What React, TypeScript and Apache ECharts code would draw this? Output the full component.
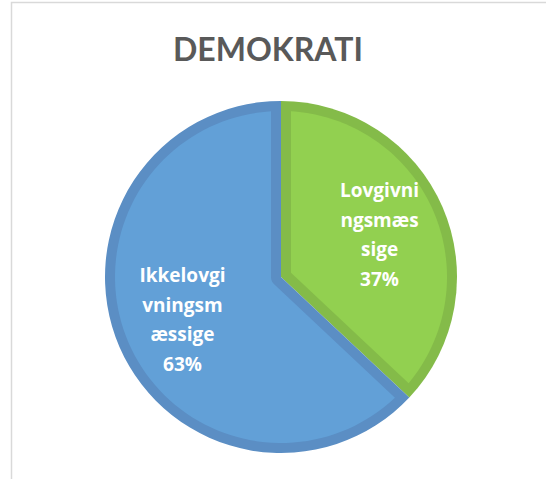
import React, { useEffect, useRef } from "react";
import * as echarts from "echarts";

const chartTitle = "DEMOKRATI";
const categories = ["Lovgivningsmæssige", "Ikkelovgivningsmæssige"];
const values = [37, 63];
const wrappedLabels = ["Lovgivni\nngsmæs\nsige", "Ikkelovgi\nvningsm\næssige"];
const fillColors = ["#92d050", "#62a0d7"];
const edgeColors = ["#84bb49", "#5b8ec4"];

const CX = 281;
const CY = 277;
const R = 176;
const INSET = 10;
const LABEL_R = 0.61;

export default function App() {
  const ref = useRef<HTMLDivElement>(null);
  useEffect(() => {
    const chart = echarts.init(ref.current!, null, { renderer: "svg" });
    const total = values.reduce((a, b) => a + b, 0);
    const starts: number[] = [];
    let acc = 0;
    values.forEach((v) => {
      starts.push(acc);
      acc += v;
    });

    const renderItem = (params: any, api: any) => {
      const i = params.dataIndex;
      const v = api.value(0);
      const a0 = -Math.PI / 2 + (starts[i] / total) * Math.PI * 2;
      const a1 = a0 + (v / total) * Math.PI * 2;
      const alpha = a1 - a0;
      const rho = R - INSET;
      const delta = Math.asin(INSET / rho);
      const pts: number[][] = [];
      const n = 90;
      for (let k = 0; k <= n; k++) {
        const t = a0 + delta + ((a1 - delta - (a0 + delta)) * k) / n;
        pts.push([CX + rho * Math.cos(t), CY + rho * Math.sin(t)]);
      }
      if (alpha < Math.PI) {
        const m = (a0 + a1) / 2;
        const dc = INSET / Math.sin(alpha / 2);
        pts.push([CX + dc * Math.cos(m), CY + dc * Math.sin(m)]);
      } else {
        const e1 = a1 - Math.PI / 2;
        const e0 = a0 + Math.PI / 2;
        const m = 8;
        for (let k = 0; k <= m; k++) {
          const t = e1 + ((e0 - e1) * k) / m;
          pts.push([CX + INSET * Math.cos(t), CY + INSET * Math.sin(t)]);
        }
      }
      const mid = (a0 + a1) / 2;
      const lx = CX + LABEL_R * R * Math.cos(mid);
      const ly = CY + LABEL_R * R * Math.sin(mid);
      const pct = Math.round((v / total) * 100);
      return {
        type: "group",
        children: [
          {
            type: "polygon",
            shape: { points: pts },
            style: { fill: fillColors[i] },
          },
          {
            type: "text",
            x: lx,
            y: ly,
            style: {
              text: wrappedLabels[i] + "\n" + pct + "%",
              fill: "#ffffff",
              fontSize: 19,
              fontWeight: "bold",
              fontFamily: "'Open Sans', Lato, sans-serif",
              align: "center",
              verticalAlign: "middle",
              lineHeight: 29.5,
            },
          },
        ],
      };
    };

    chart.setOption({
      animation: false,
      backgroundColor: "#ffffff",
      graphic: [
        {
          type: "rect",
          z: -10,
          shape: { x: 11.5, y: 2.5, width: 700, height: 700 },
          style: { fill: "none", stroke: "#d9d9d9", lineWidth: 1.5 },
          silent: true,
        },
        {
          type: "text",
          x: 268,
          y: 48,
          style: {
            text: chartTitle,
            fill: "#595959",
            fontSize: 32,
            fontWeight: "bold",
            fontFamily: "Lato, 'Open Sans', sans-serif",
            align: "center",
            verticalAlign: "middle",
          },
        },
      ],
      series: [
        {
          type: "pie",
          center: [CX, CY],
          radius: R,
          startAngle: 90,
          clockwise: true,
          silent: true,
          label: { show: false },
          labelLine: { show: false },
          data: categories.map((name, i) => ({
            name,
            value: values[i],
            itemStyle: { color: edgeColors[i] },
          })),
        },
        {
          type: "custom",
          coordinateSystem: "none",
          silent: true,
          renderItem,
          data: values.map((v, i) => [v, i]),
          z: 5,
        },
      ],
    });
    return () => chart.dispose();
  }, []);
  return (
    <div
      ref={ref}
      style={{ position: "fixed", left: 0, top: 0, width: 546, height: 479, background: "#fff" }}
    />
  );
}
